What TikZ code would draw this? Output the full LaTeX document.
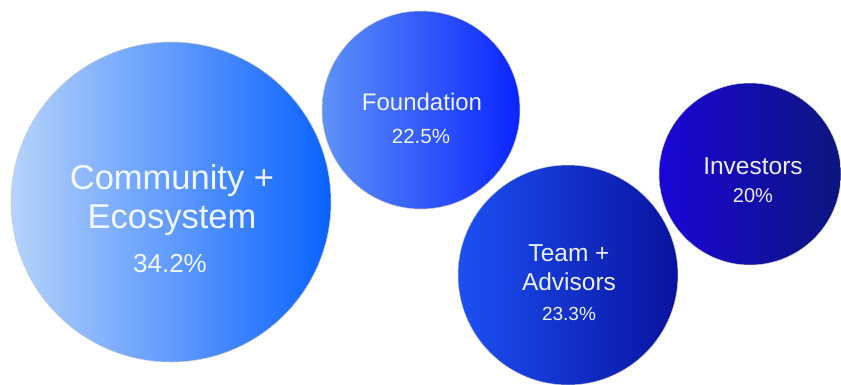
\documentclass[tikz,border=0pt]{standalone}
\usepackage{fontspec}
\setmainfont{Liberation Sans}
\definecolor{commL}{HTML}{B6D3FB}
\definecolor{commR}{HTML}{0A62FF}
\definecolor{foundL}{HTML}{5E92F7}
\definecolor{foundR}{HTML}{0A24FF}
\definecolor{teamL}{HTML}{1C50F4}
\definecolor{teamR}{HTML}{08129E}
\definecolor{invL}{HTML}{1A06D8}
\definecolor{invR}{HTML}{0C167E}
\begin{document}
\begin{tikzpicture}[x=1pt,y=-1pt,
    bubble/.style={circle,inner sep=0pt,outer sep=0pt,draw=black!20,line width=0.5pt},
    lbl/.style={text=white,text opacity=0.92,anchor=base,inner sep=0pt}]
  \useasboundingbox (0,0) rectangle (841,384);
  % bubbles
  \node[bubble,minimum size=320pt,left color=commL,right color=commR] (comm) at (171,202) {};
  \node[bubble,minimum size=198pt,left color=foundL,right color=foundR] (found) at (421,110) {};
  \node[bubble,minimum size=220pt,left color=teamL,right color=teamR] (team) at (568,275) {};
  \node[bubble,minimum size=182pt,left color=invL,right color=invR] (inv) at (750,174) {};
  % labels
  \node[lbl,font=\fontsize{34.5}{38}\selectfont] (commname1) at (172,189) {Community +};
  \node[lbl,font=\fontsize{34.5}{38}\selectfont] (commname2) at (172,228) {Ecosystem};
  \node[lbl,font=\fontsize{26}{30}\selectfont] (commpct) at (170,272) {34.2\%};
  \node[lbl,font=\fontsize{24}{28}\selectfont] (foundname) at (422,110) {Foundation};
  \node[lbl,font=\fontsize{20.5}{24}\selectfont] (foundpct) at (421,143) {22.5\%};
  \node[lbl,font=\fontsize{24.5}{28}\selectfont] (teamname1) at (569,261) {Team +};
  \node[lbl,font=\fontsize{24.5}{28}\selectfont] (teamname2) at (569,290) {Advisors};
  \node[lbl,font=\fontsize{19}{22}\selectfont] (teampct) at (569,320) {23.3\%};
  \node[lbl,font=\fontsize{24.5}{28}\selectfont] (invname) at (753,174) {Investors};
  \node[lbl,font=\fontsize{20}{24}\selectfont] (invpct) at (753,202) {20\%};
\end{tikzpicture}
\end{document}
